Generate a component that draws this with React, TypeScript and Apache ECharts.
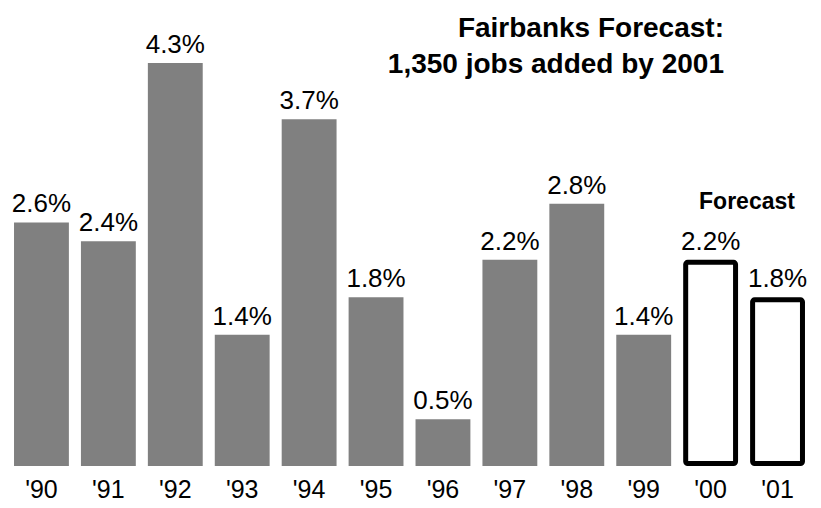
import React, { useEffect, useRef } from "react";
import * as echarts from "echarts";

const categories = ["'90", "'91", "'92", "'93", "'94", "'95", "'96", "'97", "'98", "'99", "'00", "'01"];
const growth = [2.6, 2.4, 4.3, 1.4, 3.7, 1.8, 0.5, 2.2, 2.8, 1.4, 2.2, 1.8];
const isForecast = [false, false, false, false, false, false, false, false, false, false, true, true];
const titleLines = ["Fairbanks Forecast:", "1,350 jobs added by 2001"];
const forecastLabel = "Forecast";

export default function App() {
  const ref = useRef<HTMLDivElement>(null);
  useEffect(() => {
    const chart = echarts.init(ref.current!, null, { renderer: "svg" });
    const titleStyle = {
      align: "right",
      verticalAlign: "middle",
      fontSize: 28,
      fontWeight: "bold",
      fontFamily: "'Liberation Sans', Arial, sans-serif",
      fill: "#000",
    };
    chart.setOption({
      animation: false,
      grid: { left: 8, right: 10, top: 35, bottom: 42 },
      xAxis: {
        type: "category",
        data: categories,
        axisLine: { show: false },
        axisTick: { show: false },
        axisLabel: {
          color: "#000",
          fontSize: 25,
          fontFamily: "'Liberation Sans', Arial, sans-serif",
          margin: 10,
        },
      },
      yAxis: {
        type: "value",
        min: 0,
        max: 4.6,
        show: false,
        splitLine: { show: false },
      },
      series: [
        {
          type: "bar",
          barCategoryGap: "18%",
          data: growth.map((v, i) => ({
            value: v,
            itemStyle: isForecast[i]
              ? { color: "#fff", borderColor: "#000", borderWidth: 5, borderRadius: 2 }
              : { color: "#808080" },
          })),
          label: {
            show: true,
            position: "top",
            distance: 6,
            color: "#000",
            fontSize: 26,
            fontFamily: "'Liberation Sans', Arial, sans-serif",
            formatter: (p: any) => p.value.toFixed(1) + "%",
          },
        },
      ],
      graphic: [
        { type: "text", x: 724, y: 27, style: { ...titleStyle, text: titleLines[0] } },
        { type: "text", x: 724, y: 63, style: { ...titleStyle, text: titleLines[1] } },
        {
          type: "text",
          x: 747,
          y: 201,
          style: {
            text: forecastLabel,
            align: "center",
            verticalAlign: "middle",
            fontSize: 23,
            fontWeight: "bold",
            fontFamily: "'Liberation Sans', Arial, sans-serif",
            fill: "#000",
          },
        },
      ],
    });
    return () => chart.dispose();
  }, []);
  return <div ref={ref} style={{ width: 821, height: 508, position: "absolute", left: 0, top: 0 }} />;
}
